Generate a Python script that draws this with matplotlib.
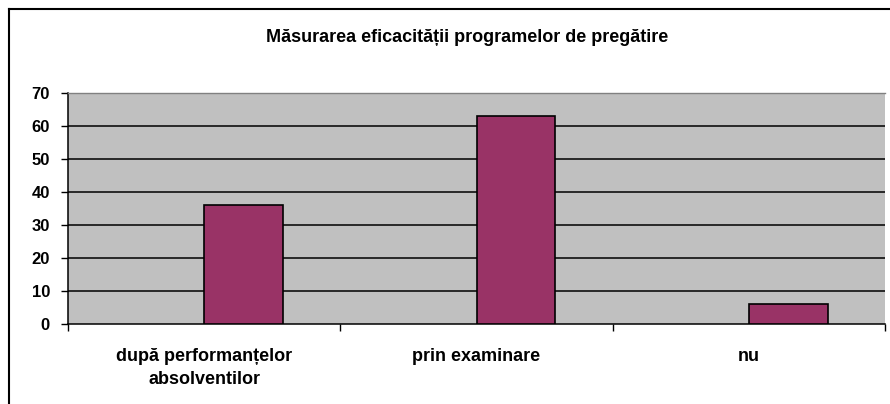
import numpy as np
import matplotlib.pyplot as plt
from matplotlib.lines import Line2D

categories = ['după performanțelor\nabsolventilor', 'prin examinare', 'nu']
values = [36, 63, 6]
title = 'Măsurarea eficacității programelor de pregătire'

plt.rcParams['font.family'] = ['Liberation Sans', 'DejaVu Sans']

fig = plt.figure(figsize=(8.9, 4.04), dpi=100)
ax = fig.add_axes([68/890, (404-324)/404, (885-68)/890, (324-93)/404])

x = np.arange(len(categories))
# bars start at the category centre (Excel-like offset)
ax.bar(x, values, width=0.29, align='edge', color='#993366',
       edgecolor='black', linewidth=1.2, zorder=3)

ax.set_facecolor('#C0C0C0')
ax.set_xlim(-0.5, 2.5)
ax.set_ylim(0, 70)
ax.set_yticks(np.arange(0, 71, 10))
ax.set_yticklabels([str(v) for v in range(0, 71, 10)], fontsize=12, fontweight='bold')
for v in range(10, 70, 10):
    ax.axhline(v, color='black', linewidth=1.1, zorder=1)

ax.set_xticks([-0.5, 0.5, 1.5, 2.5])
ax.set_xticklabels([])
ax.set_xticks(x, minor=True)
ax.set_xticklabels(categories, minor=True, fontsize=13, fontweight='bold',
                   linespacing=1.5)
ax.tick_params(axis='x', which='minor', length=0, pad=17)
ax.tick_params(axis='x', which='major', direction='out', length=5, width=1)
ax.tick_params(axis='y', direction='out', length=5, width=1, pad=8)

ax.spines['top'].set_color('#808080')
ax.spines['top'].set_linewidth(1)
ax.spines['right'].set_visible(False)
ax.spines['left'].set_linewidth(1.1)
ax.spines['bottom'].set_linewidth(1.1)

fig.text(467/890, 1 - 37/404, title, ha='center', va='center',
         fontsize=13, fontweight='bold')

# outer chart border
fig.add_artist(Line2D([9/890, 1], [1 - 9/404, 1 - 9/404], color='black', linewidth=1.5))
fig.add_artist(Line2D([9/890, 9/890], [0, 1 - 9/404], color='black', linewidth=1.5))

plt.savefig('out.png', dpi=100)
